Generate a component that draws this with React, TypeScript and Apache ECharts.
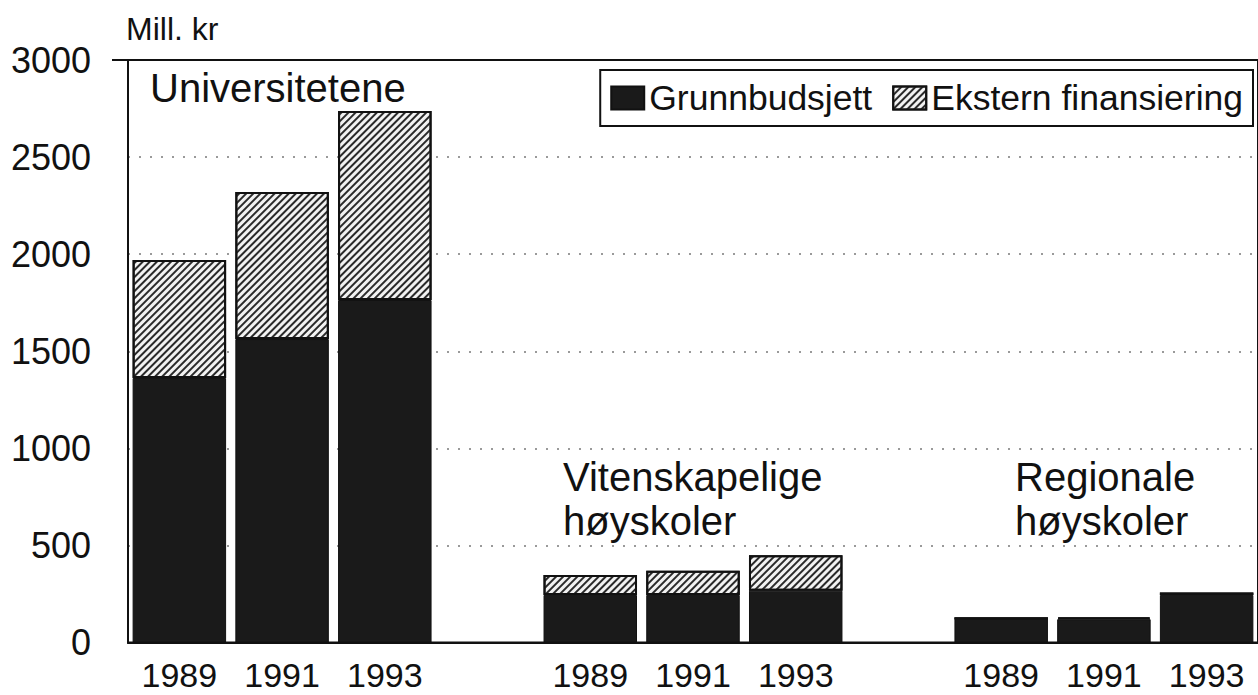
import React, { useEffect, useRef } from 'react';
import * as echarts from 'echarts';

const categories = ['1989', '1991', '1993', '', '1989', '1991', '1993', '', '1989', '1991', '1993'];
const grunnbudsjett: (number | string)[] = [1362, 1563, 1764, '-', 245, 245, 267, '-', 125, 120, 245];
const ekstern: (number | string)[] = [608, 757, 973, '-', 103, 125, 182, '-', 0, 10, 12];
const seriesNames = ['Grunnbudsjett', 'Ekstern finansiering'];
const groupLabels = ['Universitetene', 'Vitenskapelige\nhøyskoler', 'Regionale\nhøyskoler'];
const yAxisName = 'Mill. kr';
const yMin = 0;
const yMax = 3000;
const yInterval = 500;

const FONT = '"Liberation Sans", Arial, Helvetica, sans-serif';
const INK = '#111111';

export default function App() {
  const ref = useRef<HTMLDivElement>(null);
  useEffect(() => {
    if (!ref.current) return;
    const chart = echarts.init(ref.current, null, { renderer: 'svg' });
    const hatch = {
      symbol: 'rect',
      symbolSize: 1,
      color: '#2a2a2a',
      dashArrayX: [1, 0],
      dashArrayY: [1.3, 2.5],
      rotation: -Math.PI / 4,
    };
    chart.setOption({
      animation: false,
      backgroundColor: '#ffffff',
      textStyle: { fontFamily: FONT, color: INK },
      grid: {
        left: 128,
        top: 60,
        bottom: 52.5,
        right: -7,
        show: true,
        borderColor: INK,
        borderWidth: 2,
        backgroundColor: 'transparent',
      },
      legend: {
        data: seriesNames.map((n) => ({ name: n, icon: 'rect' })),
        right: 5,
        top: 70,
        orient: 'horizontal',
        borderColor: INK,
        borderWidth: 2,
        padding: [10, 10, 10, 10],
        itemWidth: 33,
        itemHeight: 23,
        itemGap: 20,
        textStyle: { fontFamily: FONT, fontSize: 35.5, color: INK, padding: [0, 0, 0, 0] },
      },
      xAxis: {
        type: 'category',
        data: categories,
        axisLine: { show: true, lineStyle: { color: INK, width: 2 } },
        axisTick: { show: false },
        axisLabel: { interval: 0, fontSize: 34, color: INK, margin: 15, fontFamily: FONT },
        splitLine: { show: false },
      },
      yAxis: {
        type: 'value',
        min: yMin,
        max: yMax,
        interval: yInterval,
        name: yAxisName,
        nameLocation: 'end',
        nameGap: 15,
        nameTextStyle: { fontSize: 32, color: INK, align: 'left', padding: [0, 0, 0, -2], fontFamily: FONT },
        axisLine: { show: true, lineStyle: { color: INK, width: 2 } },
        axisTick: { show: false },
        axisLabel: {
          fontSize: 36,
          color: INK,
          margin: 37,
          fontFamily: FONT,
          formatter: (v: number) => String(v),
        },
        splitLine: {
          show: true,
          showMinLine: false,
          showMaxLine: false,
          lineStyle: { color: '#9a9a9a', width: 2, type: [2, 9] },
        },
      },
      series: [
        {
          name: seriesNames[0],
          type: 'bar',
          stack: 'total',
          data: grunnbudsjett,
          barCategoryGap: '9%',
          itemStyle: { color: '#1a1a1a', borderColor: '#111', borderWidth: 1 },
        },
        {
          name: seriesNames[1],
          type: 'bar',
          stack: 'total',
          data: ekstern,
          barCategoryGap: '9%',
          itemStyle: { color: '#f2f2f2', borderColor: '#111', borderWidth: 2, decal: hatch },
        },
      ],
      graphic: [
        {
          type: 'line',
          shape: { x1: 112, y1: 60, x2: 128, y2: 60 },
          style: { stroke: INK, lineWidth: 2 },
        },
        {
          type: 'text',
          left: 150,
          top: 68,
          style: { text: groupLabels[0], font: `40px ${FONT}`, fill: INK },
        },
        {
          type: 'text',
          left: 563,
          top: 455,
          style: { text: groupLabels[1], font: `40px ${FONT}`, fill: INK, lineHeight: 44 },
        },
        {
          type: 'text',
          left: 1015,
          top: 455,
          style: { text: groupLabels[2], font: `40px ${FONT}`, fill: INK, lineHeight: 44 },
        },
      ],
    });
    return () => chart.dispose();
  }, []);
  return (
    <div
      ref={ref}
      style={{ position: 'fixed', left: 0, top: 0, width: 1258, height: 695, background: '#fff' }}
    />
  );
}
